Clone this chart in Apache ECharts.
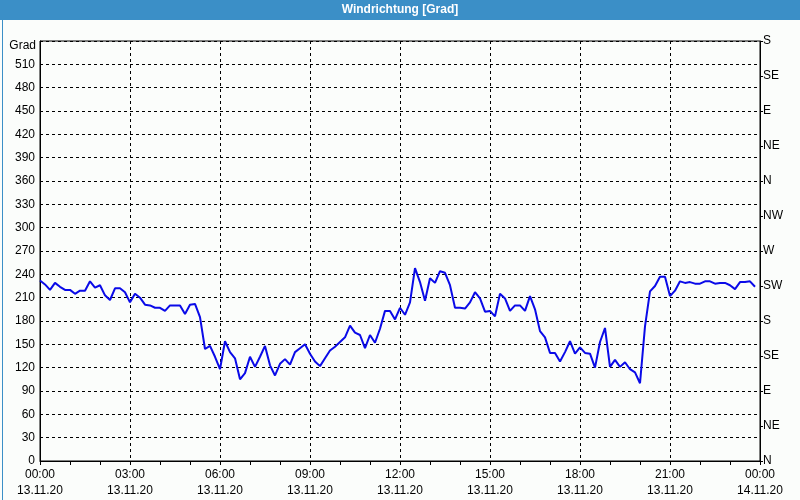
<!DOCTYPE html>
<html>
<head>
<meta charset="utf-8">
<script src="https://cdn.jsdelivr.net/npm/echarts@6/dist/echarts.min.js"></script>
<style>
html,body{margin:0;padding:0;background:#fbfdfb;}
#chart{width:800px;height:500px;}
</style>
</head>
<body>
<div id="chart"></div>
<script>
// ---- data ----
const times = [
'00:00','00:10','00:20','00:30','00:40','00:50','01:00','01:10','01:20','01:30','01:40','01:50',
'02:00','02:10','02:20','02:30','02:40','02:50','03:00','03:10','03:20','03:30','03:40','03:50',
'04:00','04:10','04:20','04:30','04:40','04:50','05:00','05:10','05:20','05:30','05:40','05:50',
'06:00','06:10','06:20','06:30','06:40','06:50','07:00','07:10','07:20','07:30','07:40','07:50',
'08:00','08:10','08:20','08:30','08:40','08:50','09:00','09:10','09:20','09:30','09:40','09:50',
'10:00','10:10','10:20','10:30','10:40','10:50','11:00','11:10','11:20','11:30','11:40','11:50',
'12:00','12:10','12:20','12:30','12:40','12:50','13:00','13:10','13:20','13:30','13:40','13:50',
'14:00','14:10','14:20','14:30','14:40','14:50','15:00','15:10','15:20','15:30','15:40','15:50',
'16:00','16:10','16:20','16:30','16:40','16:50','17:00','17:10','17:20','17:30','17:40','17:50',
'18:00','18:10','18:20','18:30','18:40','18:50','19:00','19:10','19:20','19:30','19:40','19:50',
'20:00','20:10','20:20','20:30','20:40','20:50','21:00','21:10','21:20','21:30','21:40','21:50',
'22:00','22:10','22:20','22:30','22:40','22:50','23:00','23:10','23:20','23:30','23:40','23:50'
];
const windDir = [
232,227,220,229,224,220,220,215,219,219,231,223,
226,213,207,222,222,217,204,215,210,201,200,197,
197,193,200,200,200,189,201,202,185,144,148,134,
118,154,140,132,105,113,134,121,134,148,123,110,
125,131,124,140,145,150,138,128,122,132,142,147,
153,159,174,165,162,145,162,152,170,193,193,182,
197,188,204,248,230,206,235,229,244,242,226,197,
197,196,204,217,209,192,193,186,215,209,193,200,
200,193,212,195,167,159,139,139,128,140,154,138,
146,139,138,120,153,171,121,130,121,127,118,114,
100,173,218,225,237,237,212,219,231,229,230,228,
228,231,231,228,229,229,226,221,230,230,231,224
];
const xTickLabels = [
'00:00\n13.11.20','03:00\n13.11.20','06:00\n13.11.20','09:00\n13.11.20','12:00\n13.11.20',
'15:00\n13.11.20','18:00\n13.11.20','21:00\n13.11.20','00:00\n14.11.20'
];
const compassLabels = ['N','NE','E','SE','S','SW','W','NW','N','NE','E','SE','S'];
const titleText = 'Windrichtung [Grad]';
const unitText = 'Grad';

// ---- chart ----
const toMin = t => { const p = t.split(':'); return (+p[0]) * 60 + (+p[1]); };
const seriesData = times.map((t, i) => [toMin(t), windDir[i]]);
const font = '"Liberation Sans", Arial, sans-serif';

const chart = echarts.init(document.getElementById('chart'), null, {renderer: 'canvas'});
chart.setOption({
  animation: false,
  backgroundColor: '#fbfdfb',
  textStyle: {fontFamily: font},
  graphic: [
    {type: 'rect', left: 0, top: 0, z: -1, shape: {width: 800, height: 20}, style: {fill: '#3b8fc7'}},
    {type: 'rect', left: 0, top: 0, z: 100, silent: true,
     shape: {x: 0.5, y: 0.5, width: 799, height: 499}, style: {fill: 'none', stroke: '#3b8fc7', lineWidth: 1}},
    {type: 'text', x: 400, y: 10, z: 101,
     style: {text: titleText, fill: '#ffffff', font: 'bold 12px ' + font, align: 'center', verticalAlign: 'middle'}},
    {type: 'text', x: 36, y: 46,
     style: {text: unitText, fill: '#000', font: '12px ' + font, align: 'right', verticalAlign: 'middle'}}
  ],
  grid: {left: 40, right: 40, top: 41, bottom: 39, show: true, borderColor: '#000', borderWidth: 1, backgroundColor: 'transparent'},
  xAxis: {
    type: 'value', min: 0, max: 1440, interval: 180,
    axisLine: {show: true, lineStyle: {color: '#000', width: 1}},
    axisTick: {show: true, inside: false, length: 4, lineStyle: {color: '#000'}},
    minorTick: {show: true, splitNumber: 3, length: 4, lineStyle: {color: '#000'}},
    splitLine: {show: true, lineStyle: {color: '#000', type: [3, 3], width: 1}},
    axisLabel: {
      color: '#000', fontSize: 12, fontFamily: font, lineHeight: 16, margin: 6,
      showMinLabel: true, showMaxLabel: true, hideOverlap: false,
      formatter: v => xTickLabels[Math.round(v / 180)] || ''
    }
  },
  yAxis: [
    {
      type: 'value', min: 0, max: 540, interval: 30, position: 'left',
      axisLine: {show: true, lineStyle: {color: '#000', width: 1}},
      axisTick: {show: false},
      splitLine: {show: true, lineStyle: {color: '#000', type: [3, 3], width: 1}},
      axisLabel: {
        color: '#000', fontSize: 12, fontFamily: font, margin: 5, padding: [6, 0, 0, 0],
        showMaxLabel: true,
        formatter: v => (v >= 540 ? '' : String(v))
      }
    },
    {
      type: 'value', min: 0, max: 540, interval: 45, position: 'right',
      axisLine: {show: true, lineStyle: {color: '#000', width: 1}},
      axisTick: {show: true, inside: false, length: 3, lineStyle: {color: '#000'}},
      splitLine: {show: false},
      axisLabel: {
        color: '#000', fontSize: 12, fontFamily: font, margin: 3, padding: [5, 0, 0, 0],
        showMinLabel: true, showMaxLabel: true,
        formatter: v => compassLabels[Math.round(v / 45)] || ''
      }
    }
  ],
  series: [{
    type: 'line',
    data: seriesData,
    yAxisIndex: 0,
    showSymbol: false,
    symbol: 'none',
    lineStyle: {color: '#0a0ae8', width: 2},
    itemStyle: {color: '#0a0ae8'}
  }]
});
</script>
</body>
</html>
